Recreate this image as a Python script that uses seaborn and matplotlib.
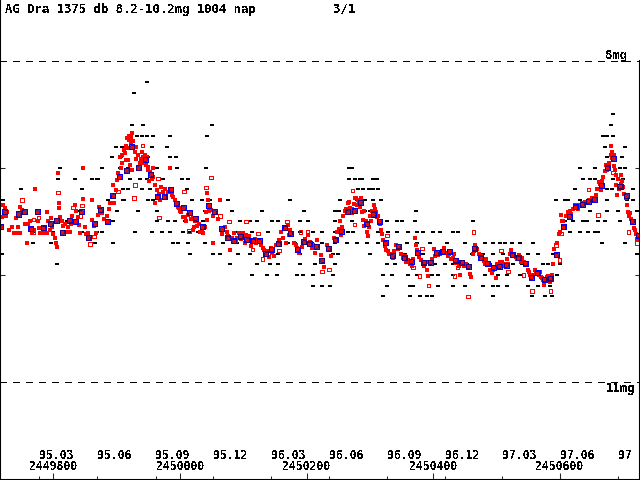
import pandas as pd
import seaborn as sns
import matplotlib.pyplot as plt

JD0 = 2449700  # days below are JD - JD0

# 10-day means (blue squares)
mean_day = [17, 23, 44, 54, 64, 74, 84, 95, 104, 114, 125, 134, 144, 155, 165, 174, 185, 194,
            204, 215, 224, 234, 245, 254, 264, 275, 285, 294, 305, 315, 324, 335, 345, 354,
            366, 375, 385, 395, 405, 415, 425, 435, 444, 455, 465, 474, 485, 495, 504, 515,
            524, 534, 545, 555, 565, 575, 585, 595, 605, 615, 624, 635, 645, 654, 665, 675,
            685, 695, 705, 715, 725, 735, 745, 755, 765, 775, 785, 795, 804, 815, 825, 834,
            845, 855, 864, 875, 885, 894, 905, 915, 924, 935, 945, 954, 965, 975, 984, 995,
            1005, 1014, 1024]
mean_mag = [9.55, 9.41, 9.43, 9.41, 9.57, 9.41, 9.56, 9.52, 9.49, 9.60, 9.49, 9.50, 9.41, 9.65,
            9.52, 9.39, 9.50, 9.26, 9.08, 9.02, 8.80, 9.00, 8.92, 9.06, 9.27, 9.27, 9.20, 9.33,
            9.37, 9.42, 9.47, 9.55, 9.35, 9.41, 9.57, 9.65, 9.68, 9.64, 9.67, 9.68, 9.68, 9.80,
            9.76, 9.71, 9.56, 9.61, 9.76, 9.69, 9.71, 9.73, 9.86, 9.75, 9.67, 9.59, 9.41, 9.40,
            9.32, 9.52, 9.43, 9.50, 9.70, 9.82, 9.73, 9.84, 9.87, 9.79, 9.88, 9.88, 9.79, 9.78,
            9.78, 9.86, 9.88, 9.92, 9.75, 9.84, 9.89, 9.93, 9.92, 9.91, 9.81, 9.84, 9.89, 10.02,
            9.98, 10.04, 10.03, 9.81, 9.55, 9.45, 9.36, 9.34, 9.31, 9.29, 9.16, 9.00, 8.91, 9.17,
            9.26, 9.50, 9.63]

# single observations, filled red
red_obs = [
    (20, 9.35), (23, 9.37), (27, 9.41), (19, 9.46), (47, 9.36), (50, 9.39), (44, 9.55), (38, 9.61),
    (42, 9.61), (47, 9.61), (58, 9.70), (63, 9.50), (65, 9.56), (66, 9.61), (71, 9.20), (76, 9.50),
    (77, 9.56), (79, 9.61), (83, 9.61), (90, 9.41), (91, 9.50), (90, 9.61), (102, 9.65), (104, 9.70),
    (106, 9.74), (109, 9.33), (109, 9.37), (107, 9.05), (110, 9.46), (113, 9.50), (115, 9.54),
    (123, 9.55), (126, 9.60), (134, 9.35), (139, 9.46), (140, 9.53), (142, 9.61), (147, 9.00),
    (147, 9.29), (155, 9.61), (161, 9.30), (161, 9.49), (164, 9.54), (167, 9.61), (174, 9.39),
    (177, 9.42), (192, 9.27), (196, 9.33), (194, 9.16), (199, 9.21), (200, 9.11), (205, 8.90),
    (211, 8.83), (215, 8.79), (219, 8.74), (224, 8.67), (223, 8.71), (218, 8.93), (221, 8.97),
    (224, 9.02), (226, 8.79), (240, 8.85), (245, 8.88), (248, 8.90), (249, 8.99), (253, 9.04),
    (257, 9.08), (260, 9.16), (264, 9.21), (260, 9.33), (208, 8.95), (213, 8.86), (217, 8.81),
    (222, 8.76), (228, 8.85), (230, 8.92), (236, 8.95), (251, 9.12), (243, 8.95), (40, 9.47),
    (55, 9.52), (96, 9.47), (98, 9.55), (118, 9.52), (128, 9.52), (150, 9.55), (158, 9.66),
    (170, 9.44), (185, 9.45), (188, 9.38),
    (202, 9.05), (206, 9.00), (209, 8.88), (214, 8.93), (216, 8.72), (220, 8.70), (225, 8.75),
    (231, 8.80), (234, 8.88), (238, 8.92), (242, 8.90), (246, 8.97), (250, 9.02), (255, 9.10),
    (258, 9.00), (25, 9.45), (30, 9.58), (35, 9.55), (60, 9.52), (70, 9.58), (86, 9.55),
    (94, 9.58), (100, 9.62), (120, 9.60), (130, 9.45), (136, 9.40), (152, 9.62), (172, 9.36),
    (180, 9.48), (190, 9.33),
    (270, 9.18), (273, 9.22), (278, 9.27), (284, 9.00), (289, 9.27), (294, 9.33), (298, 9.37),
    (302, 9.41), (305, 9.46), (308, 9.46), (320, 9.47), (324, 9.50), (327, 9.54), (320, 9.58),
    (335, 9.58), (336, 9.61), (343, 9.23), (344, 9.30), (341, 9.41), (343, 9.49), (349, 9.39),
    (352, 9.45), (352, 9.70), (363, 9.30), (371, 9.55), (374, 9.60), (376, 9.64), (379, 9.77),
    (385, 9.61), (393, 9.61), (399, 9.61), (409, 9.64), (414, 9.68), (420, 9.70), (428, 9.72),
    (433, 9.77), (436, 9.81), (441, 9.83), (445, 9.79), (448, 9.82), (456, 9.67), (463, 9.65),
    (467, 9.70), (470, 9.53), (474, 9.58), (477, 9.61), (480, 9.70), (485, 9.75), (488, 9.79),
    (502, 9.63), (505, 9.69), (508, 9.75), (513, 9.79), (516, 9.67), (266, 9.24), (281, 9.22),
    (292, 9.30), (312, 9.44), (330, 9.52), (347, 9.35), (368, 9.58), (390, 9.65), (404, 9.63),
    (425, 9.68), (452, 9.72), (460, 9.60), (495, 9.70), (498, 9.66),
    (268, 9.30), (276, 9.20), (287, 9.25), (296, 9.36), (300, 9.40), (310, 9.50), (317, 9.48),
    (322, 9.55), (332, 9.60), (339, 9.55), (346, 9.40), (356, 9.42), (360, 9.48), (366, 9.62),
    (382, 9.65), (388, 9.68), (396, 9.66), (402, 9.70), (412, 9.73), (418, 9.66), (431, 9.75),
    (438, 9.78), (443, 9.75), (458, 9.70), (465, 9.55), (472, 9.63), (483, 9.72), (492, 9.74),
    (500, 9.70), (510, 9.72), (518, 9.73),
    (523, 9.81), (526, 9.88), (528, 9.93), (532, 9.72), (537, 9.77), (539, 9.82), (543, 9.65),
    (546, 9.67), (551, 9.57), (554, 9.63), (553, 9.50), (567, 9.32), (569, 9.37), (572, 9.42),
    (581, 9.30), (584, 9.36), (587, 9.41), (589, 9.49), (591, 9.54), (595, 9.60), (597, 9.64),
    (606, 9.35), (610, 9.41), (611, 9.46), (614, 9.50), (617, 9.58), (621, 9.67), (624, 9.73),
    (625, 9.77), (633, 9.80), (636, 9.84), (641, 9.72), (644, 9.76), (649, 9.80), (652, 9.84),
    (657, 9.88), (665, 9.88), (666, 9.92), (671, 9.65), (673, 9.72), (681, 9.86), (685, 9.92),
    (690, 9.95), (692, 10.01), (701, 9.76), (708, 9.81), (714, 9.78), (720, 9.79), (731, 9.84),
    (736, 9.89), (742, 10.00), (755, 9.93), (758, 9.99), (760, 10.02), (766, 9.72), (769, 9.76),
    (548, 9.60), (560, 9.40), (575, 9.34), (578, 9.28), (600, 9.45), (603, 9.40), (628, 9.78),
    (660, 9.86), (677, 9.83), (695, 9.90), (705, 9.80), (725, 9.80), (748, 9.92), (762, 9.80),
    (556, 9.55), (558, 9.45), (562, 9.38), (565, 9.33), (571, 9.38), (576, 9.28), (580, 9.35),
    (583, 9.32), (586, 9.28), (590, 9.40), (593, 9.50), (598, 9.55), (602, 9.50), (608, 9.38),
    (613, 9.45), (616, 9.52), (619, 9.62), (623, 9.70), (630, 9.80), (638, 9.78), (647, 9.75),
    (655, 9.82), (663, 9.90), (668, 9.85), (675, 9.77), (683, 9.90), (688, 9.88), (698, 9.85),
    (703, 9.82), (711, 9.80), (717, 9.75), (723, 9.82), (728, 9.85), (733, 9.80), (740, 9.92),
    (745, 9.88), (751, 9.90), (764, 9.78),
    (776, 9.82), (780, 9.87), (787, 9.91), (790, 9.95), (793, 9.98), (799, 10.03), (809, 9.88),
    (813, 9.92), (823, 9.77), (825, 9.82), (836, 9.81), (840, 9.84), (847, 9.91), (851, 9.97),
    (855, 10.03), (864, 9.97), (867, 10.00), (874, 10.05), (875, 10.09), (881, 10.01),
    (884, 10.07), (891, 9.76), (894, 9.81), (902, 9.44), (903, 9.50), (907, 9.55), (913, 9.41),
    (918, 9.43), (924, 9.35), (929, 9.38), (946, 9.30), (951, 9.28), (962, 9.13), (965, 9.21),
    (973, 8.97), (975, 9.02), (981, 8.79), (983, 8.85), (983, 8.91), (989, 9.07), (989, 9.16),
    (990, 9.25), (997, 9.07), (998, 9.12), (1008, 9.41), (1009, 9.45), (1017, 9.56), (1020, 9.62),
    (1024, 9.64), (784, 9.85), (804, 9.93), (818, 9.90), (830, 9.83), (860, 9.95), (870, 10.02),
    (888, 10.00), (898, 9.62), (935, 9.33), (940, 9.32), (957, 9.25), (968, 9.08), (978, 8.95),
    (986, 8.98), (994, 9.20), (1002, 9.24), (1012, 9.48),
    (773, 9.80), (778, 9.85), (782, 9.90), (795, 9.95), (801, 9.90), (806, 9.88), (811, 9.90),
    (816, 9.85), (821, 9.80), (828, 9.80), (833, 9.85), (838, 9.88), (843, 9.88), (849, 9.95),
    (853, 10.00), (858, 10.00), (862, 9.98), (869, 9.97), (872, 10.03), (877, 10.06),
    (879, 10.02), (886, 10.04), (889, 9.90), (896, 9.70), (900, 9.60), (905, 9.50), (910, 9.45),
    (916, 9.40), (921, 9.38), (927, 9.35), (932, 9.35), (938, 9.34), (943, 9.32), (949, 9.30),
    (954, 9.28), (959, 9.20), (963, 9.15), (967, 9.12), (971, 9.03), (977, 8.98), (980, 8.88),
    (985, 8.88), (987, 9.02), (992, 9.10), (996, 9.15), (1000, 9.18), (1004, 9.28), (1006, 9.35),
    (1011, 9.42), (1015, 9.50), (1019, 9.58), (1022, 9.66),
]

# single observations, open squares
open_obs = [
    (50, 9.30), (68, 9.48), (76, 9.46), (68, 9.60), (107, 9.23), (131, 9.37), (143, 9.45),
    (145, 9.35), (164, 9.64), (158, 9.71), (202, 9.22), (227, 9.28), (229, 9.16), (241, 8.79),
    (265, 9.10), (267, 9.46), (306, 9.22), (314, 9.59), (341, 9.18), (349, 9.09), (363, 9.45),
    (377, 9.50), (404, 9.50), (423, 9.61), (414, 9.76), (430, 9.85), (456, 9.77), (469, 9.50),
    (490, 9.60), (501, 9.60), (572, 9.21), (535, 9.95), (524, 9.97), (576, 9.53), (627, 9.63),
    (668, 9.93), (678, 10.01), (692, 10.10), (682, 9.75), (738, 9.93), (764, 9.60), (755, 10.20),
    (734, 10.01), (856, 10.15), (885, 10.15), (894, 9.72), (903, 9.61), (945, 9.20), (960, 9.44),
    (984, 9.04), (1008, 9.60), (1022, 9.70), (899, 9.86), (807, 9.77), (818, 9.97), (843, 10.00),
]

# coarse visual estimates (black), days per 0.1 mag step
black_rows = {
    8.2: [248],
    8.3: [227],
    8.5: [984],
    8.6: [224, 241, 350, 981],
    8.7: [232, 240, 248, 257, 284, 343, 968, 975, 984],
    8.8: [199, 208, 256, 279, 971, 1003],
    8.9: [192, 207, 249, 284, 294, 975, 998],
    9.0: [110, 177, 205, 218, 264, 295, 341, 567, 572, 932, 956, 995, 1003],
    9.1: [107, 134, 161, 169, 170, 221, 237, 248, 273, 303, 313, 567, 576, 584, 588, 605, 611,
          937, 948, 956, 984, 1000],
    9.2: [49, 145, 210, 218, 240, 253, 276, 311, 581, 589, 599, 605, 613, 924, 975, 982, 1016],
    9.3: [20, 186, 210, 211, 249, 257, 319, 335, 347, 376, 474, 553, 580, 592, 605, 617, 894,
          908, 913, 932, 975, 1006, 1016],
    9.4: [142, 200, 234, 264, 339, 382, 430, 496, 545, 551, 592, 600, 673, 948, 975, 992, 1022],
    9.5: [121, 194, 264, 281, 292, 308, 336, 395, 411, 422, 445, 455, 490, 502, 545, 553, 572,
          627, 643, 651, 671, 763, 908, 921, 937, 943, 960, 971, 995],
    9.6: [68, 87, 99, 126, 145, 169, 177, 229, 256, 271, 284, 305, 316, 328, 387, 414, 439, 490,
          510, 524, 545, 565, 573, 613, 629, 643, 660, 674, 684, 700, 711, 731, 739, 916, 932,
          945, 956, 960],
    9.7: [68, 96, 166, 194, 289, 297, 313, 339, 368, 390, 471, 482, 508, 524, 545, 564, 580, 595,
          613, 659, 674, 695, 722, 750, 782, 794, 806, 813, 824, 837, 858, 967, 1003],
    9.8: [19, 316, 352, 363, 392, 411, 455, 490, 513, 542, 550, 600, 655, 684, 726, 761, 779, 794,
          810, 826, 850, 866, 889, 1022],
    9.9: [106, 379, 422, 442, 455, 490, 513, 545, 627, 640, 663, 703, 719, 731, 753, 790, 818,
          826, 840, 848, 873, 881, 900],
    10.0: [414, 437, 453, 485, 494, 510, 542, 621, 635, 660, 674, 698, 708, 731, 758, 782, 802,
           817, 837, 864, 896],
    10.1: [510, 524, 537, 627, 663, 668, 708, 731, 750, 779, 794, 802, 817, 850, 866, 885],
    10.2: [621, 663, 679, 690, 698, 794, 856, 877, 888],
}

month_jd = [2449777.5, 2449869.5, 2449961.5, 2450052.5, 2450143.5, 2450235.5,
            2450327.5, 2450418.5, 2450508.5, 2450600.5, 2450692.5]
month_lbl = ['95.03', '95.06', '95.09', '95.12', '96.03', '96.06',
             '96.09', '96.12', '97.03', '97.06', '97']
jd_ticks = [2449800, 2450000, 2450200, 2450400, 2450600]

means = pd.DataFrame({'jd': [JD0 + d for d in mean_day], 'mag': mean_mag})
red = pd.DataFrame(red_obs, columns=['day', 'mag'])
red['jd'] = red['day'] + JD0
opn = pd.DataFrame(open_obs, columns=['day', 'mag'])
opn['jd'] = opn['day'] + JD0
black = pd.DataFrame([(JD0 + d, m) for m, days in black_rows.items() for d in days],
                     columns=['jd', 'mag'])

sns.set_style('white')
plt.rcParams['font.family'] = ['DejaVu Sans Mono']
plt.rcParams['text.antialiased'] = False

fig = plt.figure(figsize=(6.4, 4.8), dpi=100)
ax = fig.add_axes([0, 0, 1, 1])

bar = [(-2.5, -1.2), (2.5, -1.2), (2.5, 1.2), (-2.5, 1.2)]
sns.scatterplot(data=black, x='jd', y='mag', ax=ax, marker=bar, s=9, color='black',
                linewidth=0, antialiased=False, legend=False)
sns.scatterplot(data=red, x='jd', y='mag', ax=ax, marker='s', s=9, color='#ff0000',
                linewidth=0, antialiased=False, legend=False)
sns.scatterplot(data=opn, x='jd', y='mag', ax=ax, marker='s', s=6, facecolor='none',
                edgecolor='#ff0000', linewidth=0.72, antialiased=False, joinstyle='miter',
                legend=False)
sns.scatterplot(data=means, x='jd', y='mag', ax=ax, marker='s', s=13, facecolor='none',
                edgecolor='#0000ff', linewidth=0.6, antialiased=False, joinstyle='miter',
                legend=False)
sns.scatterplot(data=means, x='jd', y='mag', ax=ax, marker='s', s=5, facecolor='#ff0000',
                edgecolor='#000070', linewidth=0.5, antialiased=False, joinstyle='miter',
                legend=False)

for m in (8, 11):
    ax.axhline(m, color='black', lw=0.72, dashes=(6, 6.5), antialiased=False)

ax.set_xlim(JD0 + 15.5, JD0 + 1026.6)
ax.set_ylim(11.916, 7.430)
ax.set_xlabel('')
ax.set_ylabel('')

ax.set_xticks(jd_ticks)
ax.set_xticks(month_jd, minor=True)
ax.set_yticks([9, 10])
ax.tick_params(axis='x', which='major', direction='in', length=5, width=0.75,
               bottom=True, top=False, labelbottom=False)
ax.tick_params(axis='x', which='minor', direction='in', length=3, width=0.75,
               bottom=True, top=False)
ax.tick_params(axis='y', direction='in', length=3.6, width=0.75, left=True, right=True,
               labelleft=False, labelright=False)
for side in ('left', 'right', 'bottom'):
    ax.spines[side].set_linewidth(1.5)
    ax.spines[side].set_color('black')
ax.spines['top'].set_visible(False)
ax.spines['right'].set_bounds(11.916, 8.0)

font = dict(fontsize=8.8, fontweight='bold', color='black')
small = dict(fontsize=8.3, fontweight='bold', color='black')
fig.text(5 / 640, 1 - 12.5 / 480, 'AG Dra 1375 db 8.2-10.2mg 1004 nap', ha='left',
         va='baseline', **font)
fig.text(333 / 640, 1 - 12.5 / 480, '3/1', ha='left', va='baseline', **font)
fig.text(627 / 640, 1 - 59 / 480, '8mg', ha='right', va='baseline', **font)
fig.text(635 / 640, 1 - 392 / 480, '11mg', ha='right', va='baseline', **font)

xt = ax.get_xaxis_transform()
for jd, lbl in zip(month_jd, month_lbl):
    ax.text(jd, 1 - 459 / 480, lbl, transform=xt, ha='left', va='baseline', **small)
for jd in jd_ticks:
    ax.text(jd, 1 - 470.5 / 480, str(jd), transform=xt, ha='center', va='baseline', **small)

fig.savefig('out.png', dpi=100)
